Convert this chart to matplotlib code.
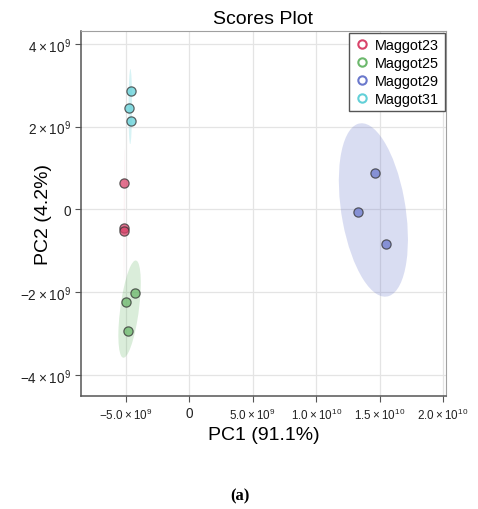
import numpy as np
import matplotlib.pyplot as plt
from matplotlib.patches import Ellipse
from matplotlib.lines import Line2D

plt.rcParams['font.family'] = ['Liberation Sans', 'DejaVu Sans']
plt.rcParams['mathtext.default'] = 'regular'

groups = ['Maggot23', 'Maggot25', 'Maggot29', 'Maggot31']
colors = ['#d9436a', '#6cb86c', '#6a78cc', '#62d0d8']

# PC scores (units of 1e9)
pc1_m23 = [-5.15, -5.16, -5.15]
pc2_m23 = [0.64, -0.46, -0.52]
pc1_m25 = [-4.31, -4.99, -4.86]
pc2_m25 = [-2.03, -2.25, -2.95]
pc1_m29 = [14.67, 13.33, 15.54]
pc2_m29 = [0.87, -0.07, -0.84]
pc1_m31 = [-4.63, -4.73, -4.63]
pc2_m31 = [2.87, 2.46, 2.13]

pc1 = [pc1_m23, pc1_m25, pc1_m29, pc1_m31]
pc2 = [pc2_m23, pc2_m25, pc2_m29, pc2_m31]

xticks = [-5e9, 0, 5e9, 1e10, 1.5e10, 2e10]
xticklabels = [r'$-5.0\times10^{9}$', '0', r'$5.0\times10^{9}$',
               r'$1.0\times10^{10}$', r'$1.5\times10^{10}$', r'$2.0\times10^{10}$']
yticks = [-4e9, -2e9, 0, 2e9, 4e9]
yticklabels = [r'$-4\times10^{9}$', r'$-2\times10^{9}$', '0',
               r'$2\times10^{9}$', r'$4\times10^{9}$']


def conf_ellipse(x, y, color, ax):
    # 95% region, chi-square with 2 df
    x = np.asarray(x) * 1e9
    y = np.asarray(y) * 1e9
    cov = np.cov(x, y)
    vals, vecs = np.linalg.eigh(cov)
    order = vals.argsort()[::-1]
    vals, vecs = vals[order], vecs[:, order]
    s = np.sqrt(5.991)
    angle = np.degrees(np.arctan2(vecs[1, 0], vecs[0, 0]))
    e = Ellipse((x.mean(), y.mean()), 2 * s * np.sqrt(max(vals[0], 0)),
                2 * s * np.sqrt(max(vals[1], 0)), angle=angle,
                facecolor=color, alpha=0.25, edgecolor='none', zorder=1)
    ax.add_patch(e)


fig = plt.figure(figsize=(4.78, 5.10), dpi=100)
ax = fig.add_axes([0.1695, 0.2216, 0.7635, 0.7154])

for xs, ys, c in zip(pc1, pc2, colors):
    conf_ellipse(xs, ys, c, ax)
    ax.scatter(np.array(xs) * 1e9, np.array(ys) * 1e9, s=44, facecolor=c,
               alpha=0.75, edgecolor='#333333', linewidth=0.9, zorder=3)

ax.set_xlim(-8.55e9, 2.024e10)
ax.set_ylim(-4.51e9, 4.31e9)
ax.set_xticks(xticks)
ax.set_xticklabels(xticklabels, fontsize=8.4)
ax.get_xticklabels()[1].set_fontsize(9.8)
ax.set_yticks(yticks)
ax.set_yticklabels(yticklabels, fontsize=9.8)
ax.grid(True, color='#e4e4e4', linewidth=0.9, zorder=0)
ax.set_axisbelow(True)
for side in ['top', 'right']:
    ax.spines[side].set_color('#a0a0a0')
for side in ['left', 'bottom']:
    ax.spines[side].set_color('#555555')
    ax.spines[side].set_linewidth(1.1)
ax.tick_params(length=4, color='#555555', labelcolor='#222222')

ax.set_title('Scores Plot', fontsize=14, pad=6)
ax.set_xlabel('PC1 (91.1%)', fontsize=14, labelpad=3)
ax.set_ylabel('PC2 (4.2%)', fontsize=14)
ax.yaxis.set_label_coords(-0.08, 0.5)

handles = [Line2D([], [], marker='o', linestyle='none', markerfacecolor='none',
                  markeredgecolor=c, markeredgewidth=1.5, markersize=6)
           for c in colors]
leg = ax.legend(handles, groups, loc='upper right', fontsize=10.4,
                handletextpad=0.3, handlelength=1.2, borderpad=0.35,
                labelspacing=0.28, borderaxespad=0.1, fancybox=False,
                framealpha=1)
leg.get_frame().set_edgecolor('#555555')
leg.get_frame().set_linewidth(1.0)

fig.text(0.502, 0.026, '(a)', ha='center', va='center', fontsize=12,
         fontweight='bold', family=['Liberation Serif', 'DejaVu Serif'])

fig.savefig('out.png', dpi=100)
